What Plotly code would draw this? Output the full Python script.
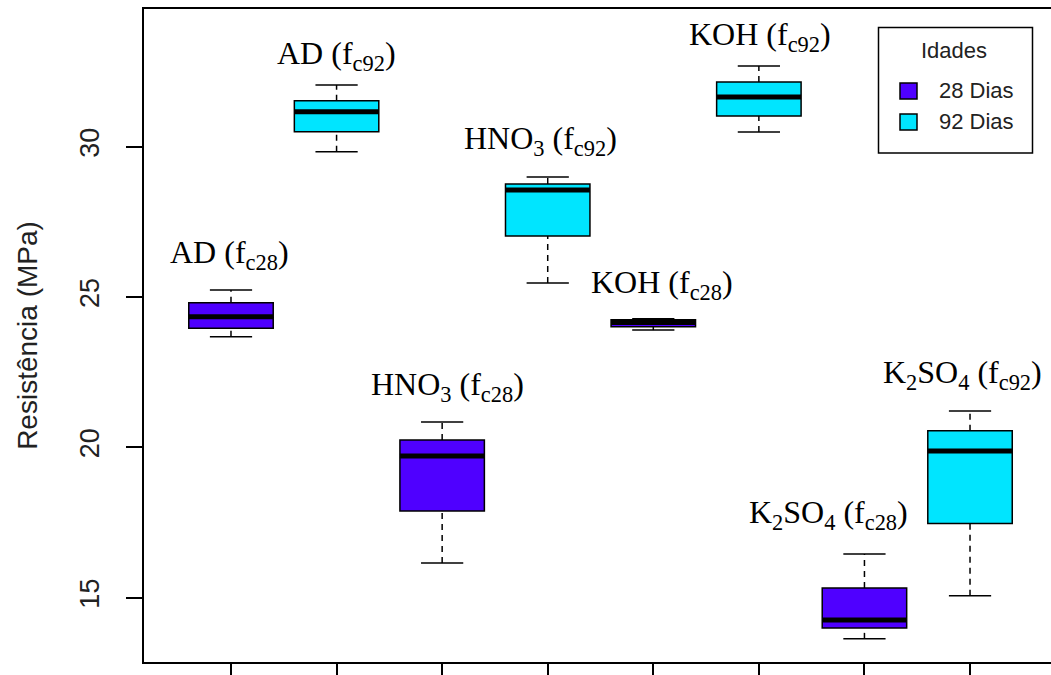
import plotly.graph_objects as go

# ---------------- data ----------------
groups = ["AD (fc28)", "AD (fc92)", "HNO3 (fc28)", "HNO3 (fc92)",
          "KOH (fc28)", "KOH (fc92)", "K2SO4 (fc28)", "K2SO4 (fc92)"]
ages = ["28 Dias", "92 Dias", "28 Dias", "92 Dias",
        "28 Dias", "92 Dias", "28 Dias", "92 Dias"]
mins = [23.68, 29.83, 16.15, 25.47, 23.90, 30.49, 13.63, 15.06]
q1s = [23.96, 30.50, 17.88, 27.03, 24.01, 31.02, 13.99, 17.47]
medians = [24.34, 31.16, 19.71, 28.56, 24.15, 31.65, 14.26, 19.88]
q3s = [24.81, 31.53, 20.24, 28.76, 24.24, 32.15, 15.32, 20.55]
maxs = [25.23, 32.05, 20.84, 28.99, 24.28, 32.68, 16.45, 21.21]
label_html = ["AD (f<sub>c28</sub>)", "AD (f<sub>c92</sub>)",
              "HNO<sub>3</sub> (f<sub>c28</sub>)", "HNO<sub>3</sub> (f<sub>c92</sub>)",
              "KOH (f<sub>c28</sub>)", "KOH (f<sub>c92</sub>)",
              "K<sub>2</sub>SO<sub>4</sub> (f<sub>c28</sub>)", "K<sub>2</sub>SO<sub>4</sub> (f<sub>c92</sub>)"]
age_names = ["28 Dias", "92 Dias"]

# ---------------- style ----------------
colors = {"28 Dias": "#4F00FF", "92 Dias": "#00E5FF"}
BOX_W = 0.8
CAP_HALF = 0.2
# label placement (layout): x shift from box position, y in data units
label_dx = [-0.01, 0.0, 0.05, -0.07, 0.08, 0.01, -0.34, -0.07]
label_y = [26.43, 33.03, 22.04, 30.22, 25.40, 33.65, 17.75, 22.41]

W, H = 1051, 675
ML, MR, MT, MB = 144, 0, 9, 13
PW, PH = W - ML - MR, H - MT - MB


def px(x):
    return (x - ML) / PW


def py(y):
    return (H - MB - y) / PH


fig = go.Figure()
positions = list(range(1, len(groups) + 1))

for age in age_names:
    idx = [i for i, a in enumerate(ages) if a == age]
    fig.add_trace(go.Box(
        x=[positions[i] for i in idx],
        q1=[q1s[i] for i in idx],
        median=[medians[i] for i in idx],
        q3=[q3s[i] for i in idx],
        lowerfence=[q1s[i] for i in idx],
        upperfence=[q3s[i] for i in idx],
        name=age, width=BOX_W, whiskerwidth=0,
        fillcolor=colors[age], line=dict(color="black", width=1.5),
        showlegend=False, hoverinfo="skip",
    ))

# whiskers (dashed), caps and thick medians
for i, p in enumerate(positions):
    for lo, hi in ((q3s[i], maxs[i]), (mins[i], q1s[i])):
        fig.add_trace(go.Scatter(x=[p, p], y=[lo, hi], mode="lines",
                                 line=dict(color="black", width=1.5, dash="6px,5px"),
                                 showlegend=False, hoverinfo="skip"))
    for v in (mins[i], maxs[i]):
        fig.add_trace(go.Scatter(x=[p - CAP_HALF, p + CAP_HALF], y=[v, v], mode="lines",
                                 line=dict(color="black", width=1.5),
                                 showlegend=False, hoverinfo="skip"))
    fig.add_trace(go.Scatter(x=[p - BOX_W / 2, p + BOX_W / 2], y=[medians[i], medians[i]],
                             mode="lines", line=dict(color="black", width=5),
                             showlegend=False, hoverinfo="skip"))

# group labels
for i, p in enumerate(positions):
    fig.add_annotation(x=p + label_dx[i], y=label_y[i], text=label_html[i],
                       showarrow=False, xanchor="center", yanchor="middle",
                       font=dict(family="Liberation Serif", size=32, color="black"))

# custom legend
fig.add_shape(type="rect", xref="paper", yref="paper",
              x0=px(878.5), x1=px(1032.5), y0=py(153), y1=py(27.5),
              line=dict(color="black", width=1.5), fillcolor="white")
fig.add_annotation(xref="paper", yref="paper", x=px(954), y=py(51), text="Idades",
                   showarrow=False, xanchor="center", yanchor="middle",
                   font=dict(family="Liberation Sans", size=22, color="#222"))
for k, age in enumerate(age_names):
    yc = 91 + 31 * k
    fig.add_shape(type="rect", xref="paper", yref="paper",
                  x0=px(900), x1=px(917), y0=py(yc + 8), y1=py(yc - 8),
                  line=dict(color="black", width=1.5), fillcolor=colors[age])
    fig.add_annotation(xref="paper", yref="paper", x=px(937), y=py(yc), text=age,
                       showarrow=False, xanchor="left", yanchor="middle",
                       font=dict(family="Liberation Sans", size=22, color="#222"))

fig.update_layout(
    width=W, height=H,
    margin=dict(l=ML, r=MR, t=MT, b=MB, autoexpand=False),
    paper_bgcolor="white", plot_bgcolor="white",
    boxmode="overlay", showlegend=False,
    font=dict(family="Liberation Sans", color="#222"),
)
fig.update_xaxes(range=[0.176, 8.767], showgrid=False, zeroline=False,
                 showline=True, linecolor="black", linewidth=1.5, mirror=True,
                 tickmode="array", tickvals=positions, ticks="outside",
                 ticklen=16, tickwidth=1.5, tickcolor="black", showticklabels=False)
fig.update_yaxes(range=[12.86, 34.58], showgrid=False, zeroline=False,
                 showline=True, linecolor="black", linewidth=1.5, mirror=False,
                 tickmode="array", tickvals=[15, 20, 25, 30], ticks="outside",
                 ticklen=16, tickwidth=1.5, tickcolor="black",
                 tickangle=-90, ticklabelstandoff=16,
                 tickfont=dict(family="Liberation Sans", size=27, color="#222"),
                 title=dict(text="Resistência (MPa)", standoff=30,
                            font=dict(family="Liberation Sans", size=28, color="#222")))

fig.write_html("out.html")
